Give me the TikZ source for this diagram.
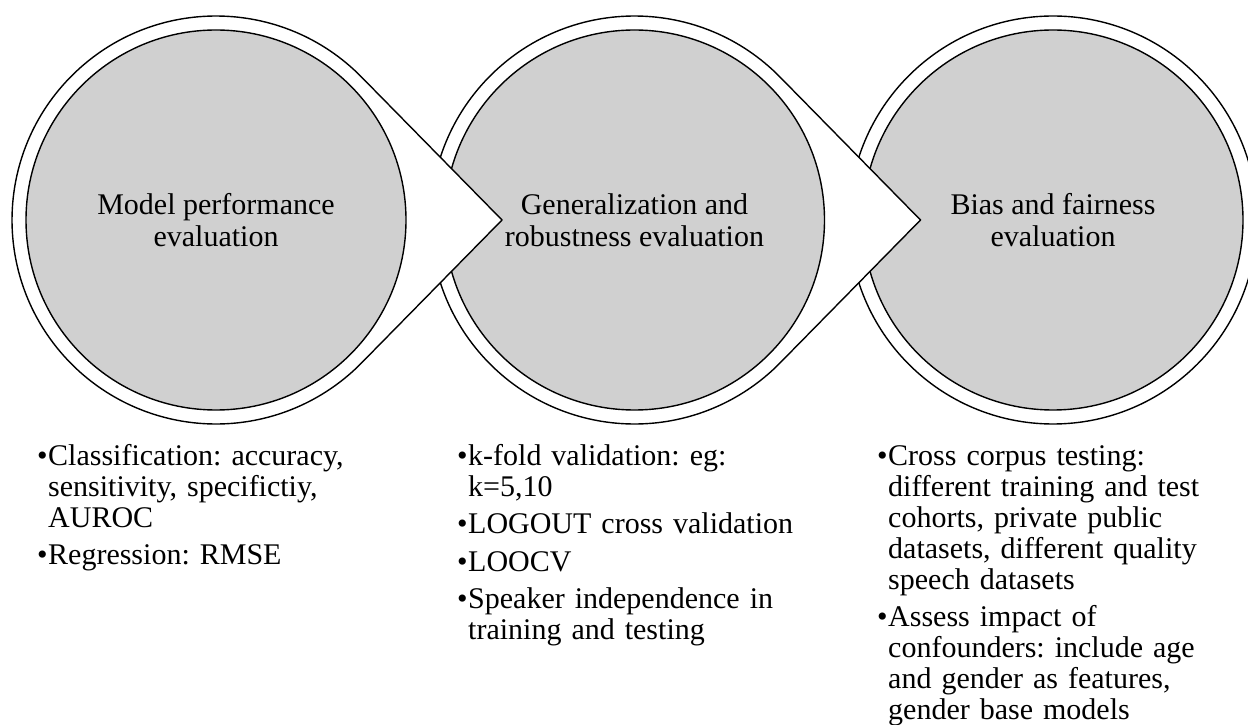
\documentclass[tikz,border=0pt]{standalone}
\usepackage{fontspec}
\setmainfont{Liberation Serif}
\usetikzlibrary{positioning,calc}
\definecolor{evgrey}{RGB}{208,208,208}
\newcommand{\itm}{\noindent\hangindent=11pt\hangafter=1\makebox[11pt][l]{\textbullet}}
\frenchspacing

\begin{document}
\begin{tikzpicture}[
  x=1pt, y=1pt,
  disc/.style={circle, draw=black, line width=1.4pt, fill=evgrey, minimum size=380pt, inner sep=0pt, align=center, font=\fontsize{30}{32}\selectfont},
  ring/.style={draw=black, line width=1.4pt, fill=white},
  steplist/.style={anchor=base west, inner sep=0pt, text width=370pt, align=left, font=\fontsize{30}{31}\selectfont}
]
\useasboundingbox (0,0) rectangle (1248,724);
\coordinate (m1) at (216,504);
\coordinate (m2) at (634.5,504);
\coordinate (m3) at (1053,504);
\coordinate (tip1) at ($(m1)+(286,0)$);
\coordinate (tip2) at ($(m2)+(286,0)$);

% last step first, so each arrow lies over the next circle
\draw[ring] (m3) circle[radius=204];
\node[disc] (bias) at (m3) {Bias and fairness\\evaluation};
\draw[ring] (tip2) -- ($(m2)+(44.5:204)$) arc[start angle=44.5, end angle=315.5, radius=204] -- cycle;
\node[disc] (gen) at (m2) {Generalization and\\robustness evaluation};
\draw[ring] (tip1) -- ($(m1)+(44.5:204)$) arc[start angle=44.5, end angle=315.5, radius=204] -- cycle;
\node[disc] (perf) at (m1) {Model performance\\evaluation};

% lists under the circles
\node[steplist] (perflist) at (37,259) {\itm Classification: accuracy,\newline sensitivity, specifictiy,\newline AUROC\par\vspace{6.5pt}
\itm Regression: RMSE\par};
\node[steplist] (genlist) at (457,259) {\itm k-fold validation: eg:\newline k=5,10\par\vspace{6.5pt}
\itm LOGOUT cross validation\par\vspace{6.5pt}
\itm LOOCV\par\vspace{6.5pt}
\itm Speaker independence in\newline training and testing\par};
\node[steplist] (biaslist) at (877,259) {\itm Cross corpus testing:\newline different training and test\newline cohorts, private public\newline datasets, different quality\newline speech datasets\par\vspace{6.5pt}
\itm Assess impact of\newline confounders: include age\newline and gender as features,\newline gender base models\par};
\end{tikzpicture}
\end{document}
